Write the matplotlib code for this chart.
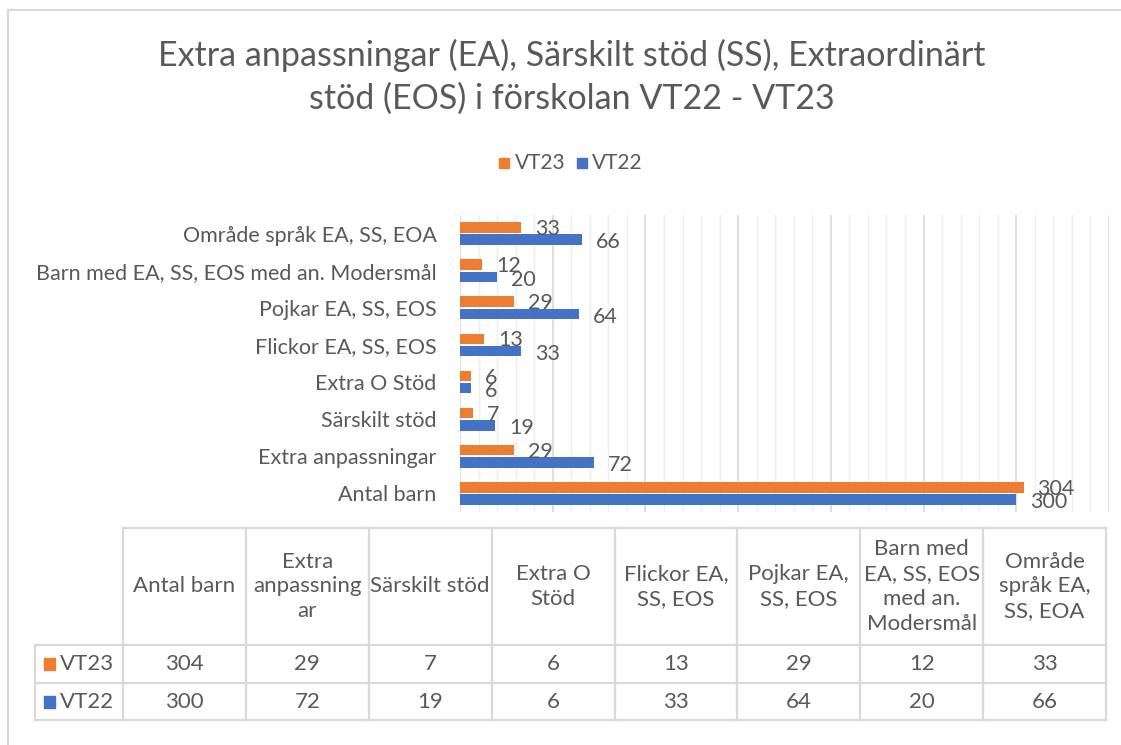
import matplotlib
matplotlib.use('Agg')
import matplotlib.pyplot as plt
import numpy as np
from matplotlib.patches import Rectangle

# data
categories = ['Antal barn', 'Extra anpassningar', 'Särskilt stöd', 'Extra O Stöd',
              'Flickor EA, SS, EOS', 'Pojkar EA, SS, EOS',
              'Barn med EA, SS, EOS med an. Modersmål', 'Område språk EA, SS, EOA']
table_headers = ['Antal barn', 'Extra\nanpassning\nar', 'Särskilt stöd', 'Extra O\nStöd',
                 'Flickor EA,\nSS, EOS', 'Pojkar EA,\nSS, EOS',
                 'Barn med\nEA, SS, EOS\nmed an.\nModersmål', 'Område\nspråk EA,\nSS, EOA']
vt23 = [304, 29, 7, 6, 13, 29, 12, 33]
vt22 = [300, 72, 19, 6, 33, 64, 20, 66]
series_names = ['VT23', 'VT22']
title = 'Extra anpassningar (EA), Särskilt stöd (SS), Extraordinärt\nstöd (EOS) i förskolan VT22 - VT23'

orange = '#ED7D31'
blue = '#4472C4'
txt = '#595959'
grid_major = '#d9d9d9'
grid_minor = '#eeeeee'

plt.rcParams['font.family'] = ['Lato', 'DejaVu Sans']

W, H = 1121, 745
fig = plt.figure(figsize=(W / 100, H / 100), dpi=100)

def box(x0, y0, x1, y1):
    return [x0 / W, 1 - y1 / H, (x1 - x0) / W, (y1 - y0) / H]

# overlay for border, title, legend, table
ov = fig.add_axes([0, 0, 1, 1])
ov.set_xlim(0, W)
ov.set_ylim(H, 0)
ov.axis('off')
ov.plot([8, 8], [10, H + 5], color='#d9d9d9', lw=1.5)
ov.plot([8, W + 5], [10, 10], color='#d9d9d9', lw=1.5)

ov.text(572, 77, title, ha='center', va='center', fontsize=24.5, color=txt, linespacing=1.42)

# legend
ov.add_patch(Rectangle((499, 158), 10, 10, color=orange))
ov.text(515, 163, series_names[0], ha='left', va='center', fontsize=15, color=txt)
ov.add_patch(Rectangle((577, 158), 10, 10, color=blue))
ov.text(592, 163, series_names[1], ha='left', va='center', fontsize=15, color=txt)

# main bar chart
ax = fig.add_axes(box(460, 215, 1109, 512))
y = np.arange(len(categories))
bh = 0.28
ax.barh(y + 0.165, vt23, height=bh, color=orange, zorder=3)
ax.barh(y - 0.165, vt22, height=bh, color=blue, zorder=3)
for i in range(len(categories)):
    ax.annotate(str(vt23[i]), (vt23[i], y[i] + 0.12), xytext=(10, 0), textcoords='offset points',
                ha='left', va='center', fontsize=15.5, color=txt, zorder=4)
    ax.annotate(str(vt22[i]), (vt22[i], y[i] - 0.24), xytext=(10, 0), textcoords='offset points',
                ha='left', va='center', fontsize=15.5, color=txt, zorder=4)
ax.set_xlim(0, 350)
ax.set_ylim(-0.5, len(categories) - 0.5)
ax.set_xticks(np.arange(0, 351, 50))
ax.set_xticks(np.arange(0, 351, 10), minor=True)
ax.grid(axis='x', which='major', color=grid_major, lw=1.2, zorder=0)
ax.grid(axis='x', which='minor', color=grid_minor, lw=1.0, zorder=0)
ax.tick_params(axis='x', which='both', length=0, labelbottom=False)
ax.set_yticks(y)
ax.set_yticklabels(categories, fontsize=15.5, color=txt)
ax.tick_params(axis='y', length=0, pad=17)
for s in ax.spines.values():
    s.set_visible(False)

# data table
col_x = np.linspace(123, 1106, len(categories) + 1)
row_y = [528, 645, 683, 720]
lc = '#d9d9d9'
ov.plot([123, 1106], [528, 528], color=lc, lw=1.6)
for yy in row_y[1:]:
    ov.plot([35, 1106], [yy, yy], color=lc, lw=1.6)
for xx in col_x:
    ov.plot([xx, xx], [528, 720], color=lc, lw=1.6)
ov.plot([35, 35], [645, 720], color=lc, lw=1.6)

for j, hdr in enumerate(table_headers):
    cx = (col_x[j] + col_x[j + 1]) / 2
    ov.text(cx, (528 + 645) / 2, hdr, ha='center', va='center', fontsize=16, color=txt,
            linespacing=1.3)
    ov.text(cx, (645 + 683) / 2, str(vt23[j]), ha='center', va='center', fontsize=16, color=txt)
    ov.text(cx, (683 + 720) / 2, str(vt22[j]), ha='center', va='center', fontsize=16, color=txt)

for k, (name, c) in enumerate(zip(series_names, [orange, blue])):
    yc = (row_y[k + 1] + row_y[k + 2]) / 2
    ov.add_patch(Rectangle((44, yc - 6), 11, 12, color=c))
    ov.text(60, yc, name, ha='left', va='center', fontsize=16, color=txt)

fig.savefig('out.png', dpi=100)
